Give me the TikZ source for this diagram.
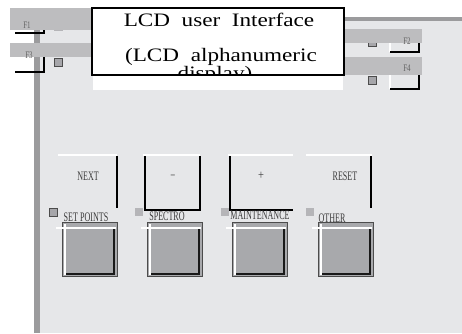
\documentclass[tikz,border=0pt]{standalone}
\usepackage{fontspec}
\setmainfont{Liberation Serif}
\usetikzlibrary{positioning}
\definecolor{PanelGray}{HTML}{E6E7E9}
\definecolor{BarGray}{HTML}{BDBDBF}
\definecolor{EdgeGray}{HTML}{9B9B9D}
\definecolor{KeyGray}{HTML}{A8A9AC}
\definecolor{LedGray}{HTML}{A6A6AA}
\definecolor{LedPale}{HTML}{B5B5B8}
\definecolor{LabelGray}{HTML}{3C3C3C}
\tikzset{
  keylabel/.style={font=\fontsize{13}{13}\selectfont,text=LabelGray,xscale=.62,inner sep=0pt},
  flabel/.style={font=\fontsize{10}{10}\selectfont,text=LabelGray!80,xscale=.7,inner sep=0pt},
  lcdtext/.style={font=\fontsize{19}{19}\selectfont,anchor=base,inner sep=0pt,xscale=1.22},
  led/.style={fill=LedGray,draw=black!70,line width=.8pt},
  edgeline/.style={line width=2pt},
}

\begin{document}
\begin{tikzpicture}[x=1pt,y=-1pt]
  \useasboundingbox (0,0) rectangle (462,333);
  \fill[PanelGray] (40,21) rectangle (462,333);
  \fill[EdgeGray] (34,30) rectangle (40,333);
  \fill[EdgeGray] (343,17) rectangle (462,21);
  % function keys F1..F4
  \fill[LedPale] (54,22) rectangle (63,31);
  \draw[led] (54.5,58.5) rectangle (62.5,66.5);
  \draw[led] (368.5,37.5) rectangle (376.5,46.5);
  \draw[led] (368.5,76.5) rectangle (376.5,84.5);
  \fill[BarGray] (10,8) rectangle (92,30);
  \fill[BarGray] (10,43) rectangle (92,57);
  \fill[BarGray] (343,29) rectangle (422,43);
  \fill[BarGray] (343,57) rectangle (422,75);
  \node[flabel] (f1) at (27,25) {F1};
  \begin{scope}
    \clip (10,43) rectangle (92,57);
    \node[flabel] (f3) at (29,55) {F3};
  \end{scope}
  \begin{scope}
    \clip (343,29) rectangle (422,43);
    \node[flabel] (f2) at (407,41) {F2};
  \end{scope}
  \node[flabel] (f4) at (407,68) {F4};
  \draw[edgeline] (15,33)--(44,33)--(44,30);
  \draw[edgeline] (15,71.5)--(44,71.5)--(44,57);
  \draw[edgeline,white] (389.5,43)--(389.5,52);
  \draw[edgeline] (390,52)--(419,52)--(419,43);
  \draw[edgeline,white] (389.5,75)--(389.5,89);
  \draw[edgeline] (390,89)--(419,89)--(419,75);
  % display
  \fill[white] (93,75) rectangle (343,90);
  \draw[edgeline,fill=white] (92,8) rectangle (344,75);
  \begin{scope}
    \clip (93,9) rectangle (343,74);
    \node[lcdtext] (lcdtitle) at (219,26) {LCD\ \ user\ \ Interface};
    \node[lcdtext] (lcdsub) at (221,61) {(LCD\ \ alphanumeric};
    \node[lcdtext] (lcdsub2) at (215,79) {display)};
  \end{scope}
  % upper row of keys
  \draw[edgeline,white] (58,155)--(117,155);
  \draw[edgeline] (116.5,156)--(116.5,208);
  \node[keylabel] (next) at (88,176) {NEXT};
  \draw[edgeline,white] (143,155)--(200,155);
  \draw[edgeline] (145,156)--(145,210)--(199.5,210)--(199.5,156);
  \node[keylabel] (minus) at (173,177) {--};
  \draw[edgeline,white] (228,155)--(293,155);
  \draw[edgeline] (229.5,156)--(229.5,210)--(293,210);
  \node[keylabel,xscale=1.3] (plus) at (261,176) {+};
  \draw[edgeline,white] (306,155)--(372,155);
  \draw[edgeline] (370.5,156)--(370.5,208);
  \node[keylabel] (reset) at (345,176) {RESET};
  % leds and labels
  \draw[led] (49.5,208.5) rectangle (57.5,216.5);
  \fill[LedPale] (135,208) rectangle (143,216);
  \fill[LedPale] (221,208) rectangle (229,216);
  \fill[LedPale] (306,208) rectangle (314,216);
  \node[keylabel] (setpoints) at (86,217) {SET POINTS};
  \node[keylabel] (spectro) at (167,216) {SPECTRO};
  \node[keylabel] (maint) at (260,215.5) {MAINTENANCE};
  \node[keylabel] (other) at (332,218) {OTHER};
  % lower row of keys
  \foreach \x in {62,147,232,318}{
    \fill[KeyGray] (\x,222) rectangle (\x+55,276);
    \draw[black!70,line width=.6pt] (\x,222) rectangle (\x+55,276);
    \draw[white,line width=2pt] (\x+3,224)--(\x+3,275);
    \draw[black!90,line width=2pt] (\x+51.5,228)--(\x+51.5,273.5)--(\x+4,273.5);
    \draw[white,line width=2pt] (\x-6,228)--(\x+54,228);
  }
\end{tikzpicture}
\end{document}
